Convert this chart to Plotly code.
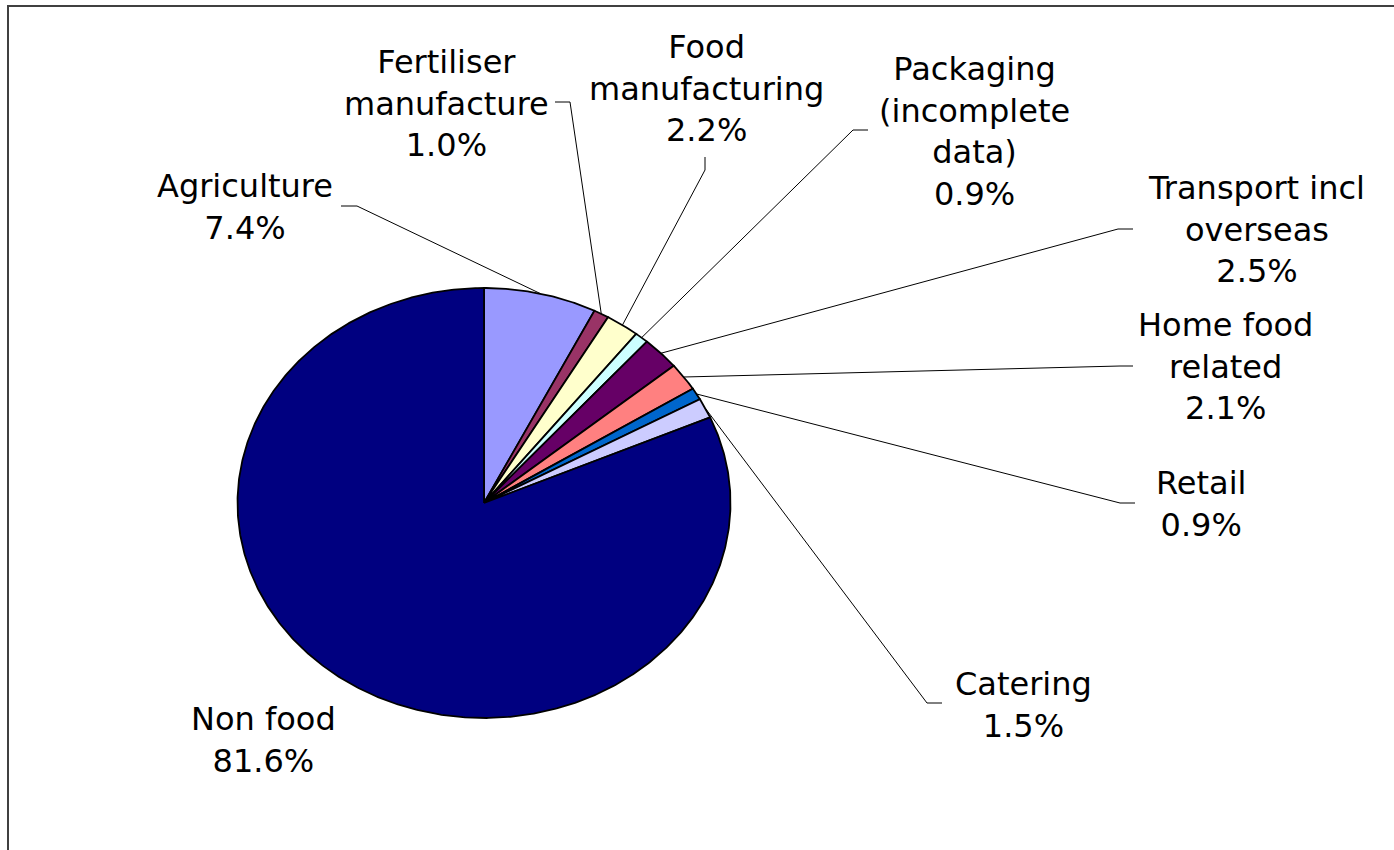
import numpy as np
import plotly.graph_objects as go

# ---- data ----
categories = ["Agriculture", "Fertiliser manufacture", "Food manufacturing",
              "Packaging (incomplete data)", "Transport incl overseas",
              "Home food related", "Retail", "Catering", "Non food"]
label_lines = ["Agriculture", "Fertiliser<br>manufacture", "Food<br>manufacturing",
               "Packaging<br>(incomplete<br>data)", "Transport incl<br>overseas",
               "Home food<br>related", "Retail", "Catering", "Non food"]
values = [7.4, 1.0, 2.2, 0.9, 2.5, 2.1, 0.9, 1.5, 81.6]
colors = ["#9999FF", "#993366", "#FFFFCC", "#CCFFFF", "#660066",
          "#FF8080", "#0066CC", "#CCCCFF", "#000080"]

# ---- layout (pixel space) ----
W, H = 1394, 850
cx, cy = 484, 503          # pie centre
rx, ry = 246.5, 215        # ellipse radii
label_pos = [(245, 207), (446, 103), (706, 88), (974, 131), (1256, 229),
             (1225, 366), (1201, 504), (1023, 705), (263, 740)]
# leader line stubs: (label end, bend point) ; None for no leader
leader_stub = [((341, 206), (357, 206)), ((555, 102), (570, 102)),
               ((705, 157), (705, 170)), ((868, 130), (853, 130)),
               ((1133, 229), (1118, 229)), ((1133, 366), (1120, 366)),
               ((1135, 503), (1120, 503)), ((942, 703), (927, 703)), None]

total = sum(values)
fig = go.Figure()

# leader lines
cum = 0.0
mids = []
for v in values:
    mids.append((cum + v / 2) / total * 2 * np.pi)
    cum += v
for m, stub in zip(mids, leader_stub):
    if stub is None:
        continue
    ex = cx + rx * np.sin(m)
    ey = cy - ry * np.cos(m)
    fig.add_trace(go.Scatter(x=[stub[0][0], stub[1][0], ex], y=[stub[0][1], stub[1][1], ey],
                             mode="lines", line=dict(color="black", width=1),
                             hoverinfo="skip", showlegend=False))

# slices
cum = 0.0
for name, v, col in zip(categories, values, colors):
    a0 = cum / total * 2 * np.pi
    a1 = (cum + v) / total * 2 * np.pi
    cum += v
    n = max(4, int((a1 - a0) / (2 * np.pi) * 720))
    t = np.linspace(a0, a1, n)
    xs = np.concatenate([[cx], cx + rx * np.sin(t), [cx]])
    ys = np.concatenate([[cy], cy - ry * np.cos(t), [cy]])
    fig.add_trace(go.Scatter(x=xs, y=ys, mode="lines", fill="toself", fillcolor=col,
                             line=dict(color="black", width=1.8), name=name,
                             hoverinfo="name", showlegend=False))

# labels
for txt, v, (lx, ly) in zip(label_lines, values, label_pos):
    fig.add_annotation(x=lx, y=ly, text=f"{txt}<br>{v:.1f}%", showarrow=False,
                       xanchor="center", yanchor="middle", align="center",
                       font=dict(family="DejaVu Sans", size=32, color="black"))

# frame
fig.add_shape(type="rect", x0=8, y0=6, x1=W + 20, y1=H + 20,
              line=dict(color="#404040", width=2), layer="below")

fig.update_layout(width=W, height=H, margin=dict(l=0, r=0, t=0, b=0),
                  paper_bgcolor="white", plot_bgcolor="white",
                  xaxis=dict(range=[0, W], visible=False, fixedrange=True),
                  yaxis=dict(range=[H, 0], visible=False, fixedrange=True),
                  showlegend=False)

fig.write_html("out.html", config={"displayModeBar": False},
               post_script="document.body.style.margin='0px';document.body.style.overflow='hidden';")
